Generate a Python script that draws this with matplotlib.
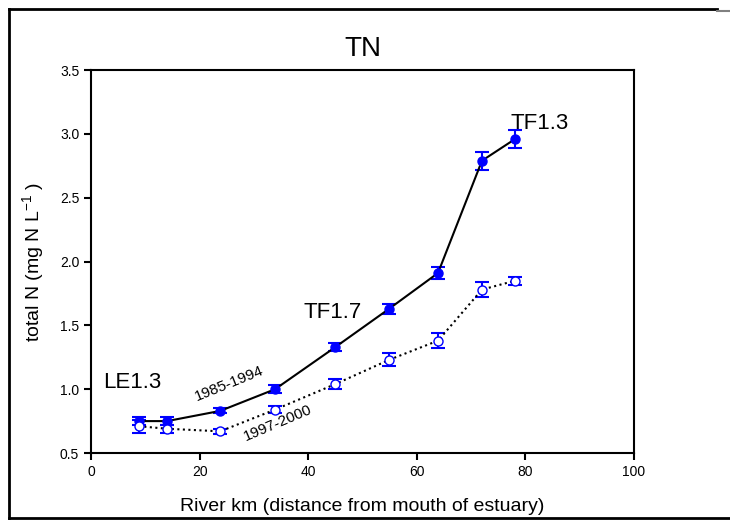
import matplotlib.pyplot as plt
from matplotlib.lines import Line2D

plt.rcParams['font.family'] = ['Liberation Sans', 'DejaVu Sans']

# river km of the stations
km = [8.8, 14.0, 23.8, 33.9, 45.0, 54.9, 63.9, 72.0, 78.1]

# 1985-1994 means and error
tn_early = [0.75, 0.75, 0.83, 1.00, 1.33, 1.63, 1.91, 2.79, 2.96]
err_early = [0.03, 0.03, 0.02, 0.03, 0.03, 0.04, 0.05, 0.07, 0.07]

# 1997-2000 means and error
tn_late = [0.71, 0.69, 0.67, 0.84, 1.04, 1.23, 1.38, 1.78, 1.85]
err_late = [0.05, 0.03, 0.02, 0.03, 0.04, 0.05, 0.06, 0.06, 0.03]

station_names = ["LE1.3", "TF1.7", "TF1.3"]
station_pos = [(2.2, 1.05), (39.2, 1.60), (77.2, 3.08)]
period_names = ["1985-1994", "1997-2000"]

fig = plt.figure(figsize=(7.3, 5.21), dpi=100)
ax = fig.add_axes([0.1247, 0.1305, 0.7438, 0.735])

# outer frame like the original figure box
fig.add_artist(Line2D([9/730, 717/730], [1-9/521, 1-9/521], color='black', lw=2.0))
fig.add_artist(Line2D([717/730, 1.0], [1-11/521, 1-11/521], color='grey', lw=1.5))
fig.add_artist(Line2D([9/730, 9/730], [1-9/521, 1-518/521], color='black', lw=2.0))
fig.add_artist(Line2D([9/730, 1.0], [1-518/521, 1-518/521], color='black', lw=2.0))

ax.errorbar(km, tn_early, yerr=err_early, fmt='o', color='black', ls='-', lw=1.5,
            mfc='blue', mec='blue', ms=6.5, ecolor='blue', elinewidth=1.5, capsize=5, capthick=1.5, zorder=3)
ax.errorbar(km, tn_late, yerr=err_late, fmt='o', color='black', ls=':', lw=1.5,
            mfc='white', mec='blue', ms=6.5, ecolor='blue', elinewidth=1.5, capsize=5, capthick=1.5, zorder=3)

for name, (x, y) in zip(station_names, station_pos):
    ax.text(x, y, name, fontsize=16, ha='left', va='center')

ax.text(25.4, 1.04, period_names[0], fontsize=11, rotation=22, ha='center', va='center')
ax.text(34.4, 0.735, period_names[1], fontsize=11, rotation=23, ha='center', va='center')

ax.set_xlim(0, 100)
ax.set_ylim(0.5, 3.5)
ax.set_xticks(range(0, 101, 20))
ax.set_yticks([0.5, 1.0, 1.5, 2.0, 2.5, 3.0, 3.5])
ax.set_yticklabels([f"{v:.1f}" for v in ax.get_yticks()])
ax.tick_params(direction='out', length=5, width=1.5, labelsize=10)
for sp in ax.spines.values():
    sp.set_linewidth(1.5)

ax.set_title("TN", fontsize=20, pad=10)
ax.set_xlabel("River km (distance from mouth of estuary)", fontsize=14, labelpad=14)
ax.set_ylabel("total N (mg N L$^{\\mathregular{-1}}$ )", fontsize=14, labelpad=9)

fig.savefig("out.png", dpi=100)
